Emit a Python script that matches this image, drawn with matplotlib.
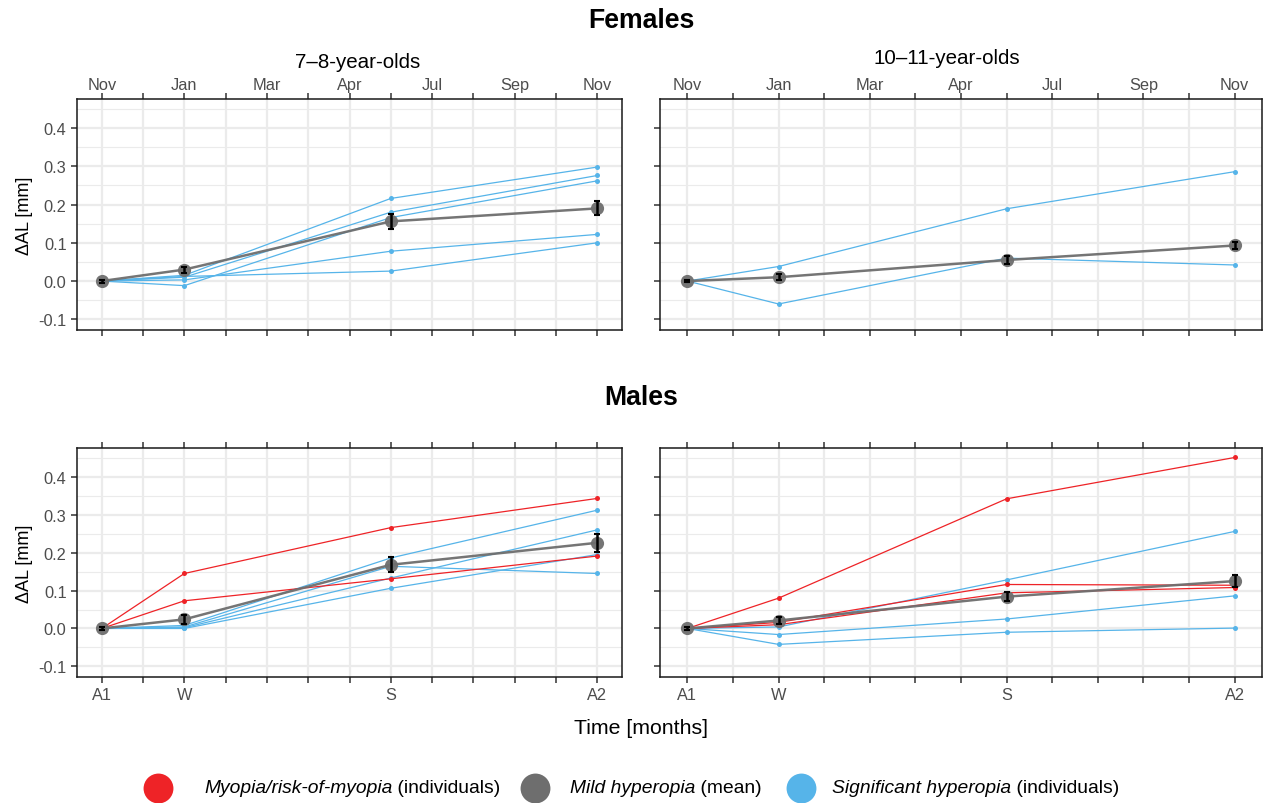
import matplotlib
matplotlib.use("Agg")
import matplotlib.pyplot as plt
import numpy as np

plt.rcParams['font.family'] = ['Liberation Sans', 'DejaVu Sans']

# ---- data -------------------------------------------------------------
months = [0, 2, 7, 12]                       # A1, W, S, A2 (months after first visit)
top_tick_pos = [0, 2, 4, 6, 8, 10, 12]
top_tick_labels = ["Nov", "Jan", "Mar", "Apr", "Jul", "Sep", "Nov"]
bottom_tick_labels = ["A1", "W", "S", "A2"]

# Females, 7-8-year-olds
f78_mean = [0.0, 0.030, 0.156, 0.190]
f78_err = [0.004, 0.008, 0.020, 0.018]
f78_sig = [[0.0, 0.015, 0.216, 0.298],
           [0.0, 0.010, 0.180, 0.276],
           [0.0, -0.012, 0.166, 0.262],
           [0.0, 0.003, 0.078, 0.122],
           [0.0, 0.012, 0.026, 0.100]]
f78_myo = []

# Females, 10-11-year-olds
f1011_mean = [0.0, 0.010, 0.055, 0.093]
f1011_err = [0.003, 0.008, 0.010, 0.010]
f1011_sig = [[0.0, 0.038, 0.189, 0.286],
             [0.0, -0.060, 0.060, 0.042]]
f1011_myo = []

# Males, 7-8-year-olds
m78_mean = [0.0, 0.024, 0.168, 0.226]
m78_err = [0.004, 0.012, 0.020, 0.024]
m78_sig = [[0.0, 0.008, 0.186, 0.312],
           [0.0, 0.004, 0.164, 0.145],
           [0.0, 0.002, 0.133, 0.260],
           [0.0, 0.000, 0.106, 0.195]]
m78_myo = [[0.0, 0.145, 0.266, 0.343],
           [0.0, 0.073, 0.131, 0.191]]

# Males, 10-11-year-olds
m1011_mean = [0.0, 0.021, 0.084, 0.125]
m1011_err = [0.003, 0.008, 0.012, 0.015]
m1011_sig = [[0.0, 0.004, 0.128, 0.256],
             [0.0, -0.016, 0.025, 0.086],
             [0.0, -0.042, -0.010, 0.001]]
m1011_myo = [[0.0, 0.080, 0.342, 0.451],
             [0.0, 0.016, 0.116, 0.114],
             [0.0, 0.010, 0.094, 0.108]]

RED = "#EE2327"
GREY = "#6E6E6E"
BLUE = "#56B4E9"
TXT = "#4D4D4D"

W, H = 1263, 804
fig = plt.figure(figsize=(W / 100, H / 100), dpi=100)


def rect(l, t, r, b):
    return [l / W, 1 - b / H, (r - l) / W, (b - t) / H]


def panel(box, mean, err, sig, myo, show_ylab, top_labels, bottom_labels):
    ax = fig.add_axes(rect(*box))
    ax.set_xlim(-0.6, 12.6)
    ax.set_ylim(-0.128, 0.476)
    # background grid: every month, every 0.05 mm (0.1 mm heavier)
    for yv in np.arange(-0.1, 0.46, 0.05):
        major = abs(round(yv * 10) - yv * 10) < 1e-6
        ax.axhline(yv, color="#EBEBEB", lw=1.6 if major else 0.8, zorder=0)
    for xv in range(0, 13):
        ax.axvline(xv, color="#EBEBEB", lw=1.6, zorder=0)

    for s in sig:
        ax.plot(months, s, color=BLUE, lw=0.9, marker="o", ms=3.6,
                mec="none", zorder=2)
    for s in myo:
        ax.plot(months, s, color=RED, lw=0.9, marker="o", ms=3.6,
                mec="none", zorder=3)
    ax.plot(months, mean, color=GREY, lw=1.8, alpha=0.95, zorder=4)
    ax.plot(months, mean, ls="none", marker="o", ms=9.5, color=GREY,
            mec="none", alpha=0.95, zorder=5)
    ax.errorbar(months, mean, yerr=err, fmt="none", ecolor="black",
                elinewidth=1.8, capsize=2.5, capthick=1.5, zorder=6)

    ax.set_xticks(range(0, 13))
    ax.set_yticks([-0.1, 0.0, 0.1, 0.2, 0.3, 0.4])
    ax.tick_params(axis="both", which="both", direction="out", length=4,
                   width=1.1, color="#333333", labelcolor=TXT,
                   labelsize=11.8, top=True, bottom=True)
    if show_ylab:
        ax.set_yticklabels(["-0.1", "0.0", "0.1", "0.2", "0.3", "0.4"])
        ax.set_ylabel("ΔAL [mm]", fontsize=13, color="black", labelpad=4)
    else:
        ax.set_yticklabels([])
    ax.tick_params(axis="x", labeltop=top_labels, labelbottom=bottom_labels,
                   pad=1 if top_labels else 3)
    if top_labels:
        ax.set_xticks(top_tick_pos, top_tick_labels)
    elif bottom_labels:
        ax.set_xticks(months, bottom_tick_labels)
    ax.set_xticks(range(0, 13), minor=True)
    ax.tick_params(axis="x", which="minor", top=True, bottom=True,
                   length=4, width=1.1, color="#333333")
    for sp in ax.spines.values():
        sp.set_color("#1A1A1A")
        sp.set_linewidth(1.1)
    return ax


panel((77, 100, 622, 331), f78_mean, f78_err, f78_sig, f78_myo, True, True, False)
panel((660, 100, 1262, 331), f1011_mean, f1011_err, f1011_sig, f1011_myo, False, True, False)
panel((77, 449, 622, 678), m78_mean, m78_err, m78_sig, m78_myo, True, False, True)
panel((660, 449, 1262, 678), m1011_mean, m1011_err, m1011_sig, m1011_myo, False, False, True)


def ftext(x, y, s, **kw):
    fig.text(x / W, 1 - y / H, s, **kw)


ftext(641, 21, "Females", fontsize=19.2, fontweight="bold", ha="center", va="center")
ftext(641, 398, "Males", fontsize=19.2, fontweight="bold", ha="center", va="center")
ftext(358, 62, "7–8-year-olds", fontsize=14.8, ha="center", va="center")
ftext(947, 59, "10–11-year-olds", fontsize=14.8, ha="center", va="center")
ftext(641, 729, "Time [months]", fontsize=15.3, ha="center", va="center")

# legend
legend_items = [
    (158, RED, "Myopia/risk-of-myopia", " (individuals)", 204),
    (535, GREY, "Mild hyperopia", " (mean)", 570),
    (801, BLUE, "Significant hyperopia", " (individuals)", 832),
]
leg_ax = fig.add_axes([0, 0, 1, 1], facecolor="none")
leg_ax.set_xlim(0, W)
leg_ax.set_ylim(H, 0)
leg_ax.axis("off")
fig.canvas.draw()
for cx, col, it, rest, tx in legend_items:
    leg_ax.plot([cx], [789], marker="o", ms=21.5, color=col, mec="none")
    t1 = leg_ax.text(tx, 789, it, fontsize=13.9, style="italic",
                     va="center", ha="left")
    fig.canvas.draw()
    bb = t1.get_window_extent()
    x_end = bb.x1 * W / fig.bbox.width
    leg_ax.text(x_end, 789, rest, fontsize=13.9, va="center", ha="left")

fig.savefig("out.png", dpi=100)
